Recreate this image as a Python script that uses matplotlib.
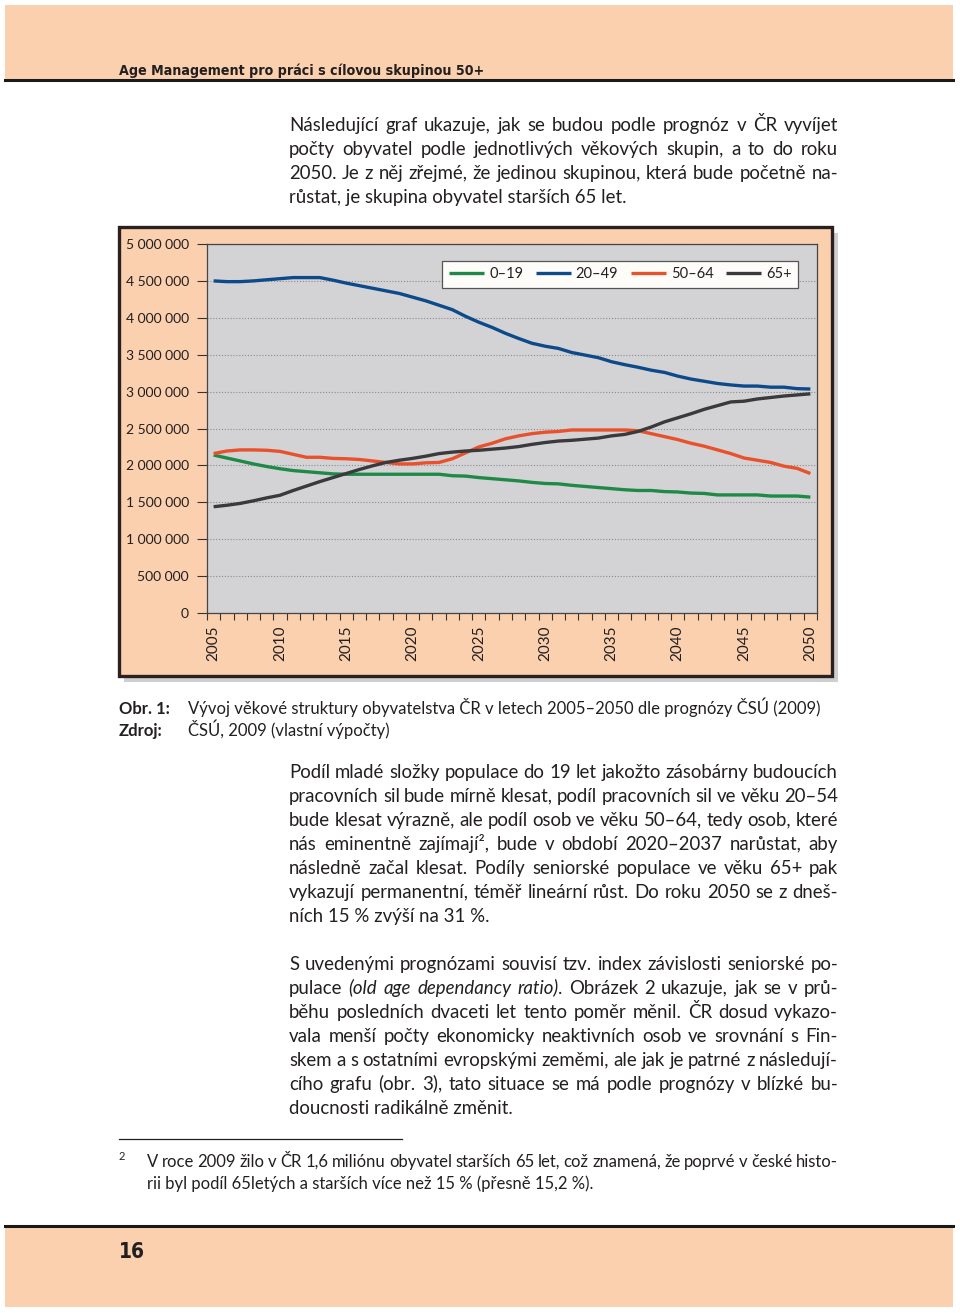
import math
import numpy as np
import matplotlib.pyplot as plt
from matplotlib.patches import Rectangle
from matplotlib.lines import Line2D
from matplotlib import font_manager
from matplotlib.backends.backend_agg import get_hinting_flag

# population forecast CZ 2005-2050
years = list(range(2005, 2051))
age_0_19 = [2140000, 2100000, 2060000, 2020000, 1985000, 1955000, 1930000, 1915000, 1900000, 1885000,
            1880000, 1880000, 1880000, 1880000, 1880000, 1880000, 1880000, 1880000, 1860000, 1855000,
            1835000, 1820000, 1805000, 1790000, 1770000, 1755000, 1750000, 1730000, 1715000, 1700000,
            1685000, 1670000, 1660000, 1660000, 1645000, 1640000, 1625000, 1620000, 1600000, 1600000,
            1600000, 1600000, 1585000, 1585000, 1585000, 1570000]
age_20_49 = [4500000, 4490000, 4490000, 4500000, 4515000, 4530000, 4545000, 4545000, 4545000, 4510000,
             4470000, 4435000, 4400000, 4365000, 4330000, 4280000, 4230000, 4170000, 4110000, 4020000,
             3940000, 3870000, 3790000, 3720000, 3655000, 3615000, 3585000, 3530000, 3495000, 3460000,
             3405000, 3365000, 3330000, 3290000, 3260000, 3210000, 3170000, 3140000, 3110000, 3090000,
             3075000, 3075000, 3060000, 3060000, 3040000, 3035000]
age_50_64 = [2160000, 2195000, 2210000, 2210000, 2205000, 2190000, 2150000, 2110000, 2110000, 2095000,
             2090000, 2080000, 2060000, 2040000, 2020000, 2020000, 2035000, 2040000, 2090000, 2170000,
             2250000, 2300000, 2360000, 2400000, 2430000, 2450000, 2460000, 2480000, 2480000, 2480000,
             2480000, 2480000, 2470000, 2430000, 2390000, 2350000, 2300000, 2260000, 2210000, 2160000,
             2100000, 2070000, 2040000, 1990000, 1960000, 1890000]
age_65 = [1440000, 1460000, 1485000, 1520000, 1560000, 1595000, 1660000, 1720000, 1780000, 1835000,
          1890000, 1945000, 1995000, 2040000, 2070000, 2095000, 2125000, 2160000, 2180000, 2195000,
          2205000, 2220000, 2235000, 2255000, 2285000, 2310000, 2330000, 2340000, 2355000, 2370000,
          2400000, 2420000, 2460000, 2520000, 2590000, 2645000, 2700000, 2760000, 2810000, 2860000,
          2870000, 2900000, 2920000, 2940000, 2955000, 2970000]
series_labels = ['0–19', '20–49', '50–64', '65+']
series_colors = ['#1f8a48', '#0d4a8a', '#e8512b', '#3a3a3c']

header_title = 'Age Management pro práci s cílovou skupinou 50+'
page_number = '16'

para1 = ['Následující graf ukazuje, jak se budou podle prognóz v ČR vyvíjet',
         'počty obyvatel podle jednotlivých věkových skupin, a to do roku',
         '2050. Je z něj zřejmé, že jedinou skupinou, která bude početně na-',
         'růstat, je skupina obyvatel starších 65 let.']
para2 = ['Podíl mladé složky populace do 19 let jakožto zásobárny budoucích',
         'pracovních sil bude mírně klesat, podíl pracovních sil ve věku 20–54',
         'bude klesat výrazně, ale podíl osob ve věku 50–64, tedy osob, které',
         'nás eminentně zajímají², bude v období 2020–2037 narůstat, aby',
         'následně začal klesat. Podíly seniorské populace ve věku 65+ pak',
         'vykazují permanentní, téměř lineární růst. Do roku 2050 se z dneš-',
         'ních 15\u00a0% zvýší na 31\u00a0%.']
# '~' marks an italic piece, '|' glues pieces into one word
para3 = ['S uvedenými prognózami souvisí tzv. index závislosti seniorské po-',
         'pulace ~(old ~age ~dependancy ~ratio)|. Obrázek 2 ukazuje, jak se v prů-',
         'běhu posledních dvaceti let tento poměr měnil. ČR dosud vykazo-',
         'vala menší počty ekonomicky neaktivních osob ve srovnání s Fin-',
         'skem a s ostatními evropskými zeměmi, ale jak je patrné z následují-',
         'cího grafu (obr. 3), tato situace se má podle prognózy v blízké bu-',
         'doucnosti radikálně změnit.']
footnote = ['V roce 2009 žilo v ČR 1,6 miliónu obyvatel starších 65 let, což znamená, že poprvé v české histo-',
            'rii byl podíl 65letých a starších více než 15\u00a0% (přesně 15,2\u00a0%).']
caption = ('Obr. 1:', 'Vývoj věkové struktury obyvatelstva ČR v letech 2005–2050 dle prognózy ČSÚ (2009)')
source = ('Zdroj:', 'ČSÚ, 2009 (vlastní výpočty)')

W, H = 960, 1313
PEACH = '#fbd0ae'
INK = '#231f20'
plt.rcParams['font.family'] = ['Lato', 'DejaVu Sans']

# a narrow bold face for the running header, if one is installed
narrow = None
for f in font_manager.fontManager.ttflist:
    n = f.fname.lower()
    if ('narrow' in n or 'condensed' in n) and 'bold' in n and 'oblique' not in n and 'italic' not in n:
        narrow = f.fname
        break
head_font = font_manager.FontProperties(fname=narrow) if narrow else \
    font_manager.FontProperties(family='DejaVu Sans', weight='bold', stretch='condensed')

fig = plt.figure(figsize=(W / 100, H / 100), dpi=100)
renderer = fig.canvas.get_renderer()


def fx(x):
    return x / W


def fy(y):
    return 1 - y / H


def box(x0, y0, x1, y1, **kw):
    fig.patches.append(Rectangle((fx(x0), fy(y1)), (x1 - x0) / W, (y1 - y0) / H,
                                 transform=fig.transFigure, zorder=-5, **kw))


def snap_y(t, base):
    # agg rounds each text bitmap on its own descent, so words with a comma
    # jump a pixel; pick a y that lands every word on the same baseline row
    try:
        font = renderer._prepare_font(t.get_fontproperties())
        font.set_text(t.get_text(), 0, flags=get_hinting_flag())
        d = font.get_descent() / 64
        h = font.get_width_height()[1] / 64
        ymax = h - d
        return base + math.floor(ymax + d) - math.floor(ymax) - d
    except Exception:
        return base


def put_line(text, x0, y, x1=None, **kw):
    # x1 given -> spread the words so the line fills x0..x1 (justified)
    if x1 is None:
        fig.text(fx(x0), fy(y), text.replace('~', '').replace('|', ''), va='baseline', color=INK, **kw)
        return
    words = []
    for w in text.split(' '):
        parts = []
        for seg in w.split('|'):
            style = 'italic' if seg.startswith('~') else 'normal'
            t = fig.text(0, fy(y), seg.lstrip('~'), va='baseline', style=style, color=INK, **kw)
            parts.append((t, t.get_window_extent(renderer).width))
        words.append(parts)
    total = sum(wd for parts in words for _, wd in parts)
    gap = (x1 - x0 - total) / max(len(words) - 1, 1)
    x = x0
    for parts in words:
        for t, wd in parts:
            t.set_position((fx(x), fy(snap_y(t, y))))
            x += wd
        x += gap


def paragraph(lines, x0, x1, y0, step, **kw):
    for i, line in enumerate(lines):
        last = i == len(lines) - 1
        put_line(line, x0, y0 + i * step, None if last else x1, **kw)


# page header / footer bands
box(5, 5, 953, 80, facecolor=PEACH, edgecolor='none')
fig.add_artist(Line2D([fx(5), fx(953)], [fy(80), fy(80)], color='#1a1a1a', lw=2.2))
head_font.set_size(10.2)
fig.text(fx(119), fy(75), header_title, va='baseline', color=INK, fontproperties=head_font)
box(5, 1226, 953, 1307, facecolor=PEACH, edgecolor='none')
fig.add_artist(Line2D([fx(5), fx(953)], [fy(1226), fy(1226)], color='#1a1a1a', lw=2.2))
num_font = head_font.copy()
num_font.set_size(15)
fig.text(fx(119), fy(1258), page_number, va='baseline', color=INK, fontproperties=num_font)

body = dict(fontsize=13.4)
paragraph(para1, 289, 838, 131, 24, **body)

# chart frame with shadow
box(124, 233, 838, 682, facecolor='#cfcfcf', edgecolor='none')
box(119, 227, 832, 676, facecolor=PEACH, edgecolor='#2a2020', lw=2.4)

ax = fig.add_axes([fx(207), fy(613), 610 / W, 369 / H])
ax.set_facecolor('#d3d3d5')
xpos = np.arange(len(years)) + 0.5
for vals, lab, col in zip([age_0_19, age_20_49, age_50_64, age_65], series_labels, series_colors):
    ax.plot(xpos, vals, color=col, lw=2.4, label=lab, solid_capstyle='butt')
ax.set_xlim(0, len(years))
ax.set_ylim(0, 5000000)
yt = np.arange(0, 5000001, 500000)
ax.set_yticks(yt)
ax.set_yticklabels([f'{v:,}'.replace(',', ' ') for v in yt], fontsize=10, color=INK)
ax.yaxis.grid(True, linestyle=(0, (1, 1.6)), color='#8c8c8c', lw=0.8)
ax.set_axisbelow(True)
ax.tick_params(axis='y', length=7, width=0.8, color='#333', pad=6)
ax.set_xticks(np.arange(len(years) + 1))
ax.set_xticklabels([])
ax.tick_params(axis='x', which='major', length=5, width=0.8, color='#333')
label_idx = [i for i, yv in enumerate(years) if yv % 5 == 0]
ax.set_xticks(xpos[label_idx], minor=True)
ax.set_xticklabels([str(years[i]) for i in label_idx], minor=True, rotation=90,
                   fontsize=11, color=INK)
ax.tick_params(axis='x', which='minor', length=0, pad=9)
for s in ax.spines.values():
    s.set_color('#444')
    s.set_linewidth(0.9)
leg = ax.legend(loc='upper right', bbox_to_anchor=(0.969, 0.955), ncol=4, fontsize=10.5,
                frameon=True, fancybox=False, edgecolor='#555', facecolor='#fdfcf9', framealpha=1,
                handlelength=2.4, handletextpad=0.35, columnspacing=0.85, borderpad=0.45,
                borderaxespad=0)
leg.get_frame().set_linewidth(0.9)
for t in leg.get_texts():
    t.set_color(INK)

# caption
cap = dict(fontsize=12)
fig.text(fx(119), fy(714), caption[0], va='baseline', color=INK, weight='bold', **cap)
put_line(caption[1], 188, 714, **cap)
fig.text(fx(119), fy(736), source[0], va='baseline', color=INK, weight='bold', **cap)
put_line(source[1], 188, 736, **cap)

paragraph(para2, 289, 838, 778, 24, **body)
paragraph(para3, 289, 838, 970, 24, **body)

# footnote
fig.add_artist(Line2D([fx(119), fx(402)], [fy(1139), fy(1139)], color=INK, lw=0.9))
fig.text(fx(119), fy(1160), '2', va='baseline', color=INK, fontsize=8)
paragraph(footnote, 147, 838, 1167, 22, fontsize=12)

fig.savefig('out.png', dpi=100)
